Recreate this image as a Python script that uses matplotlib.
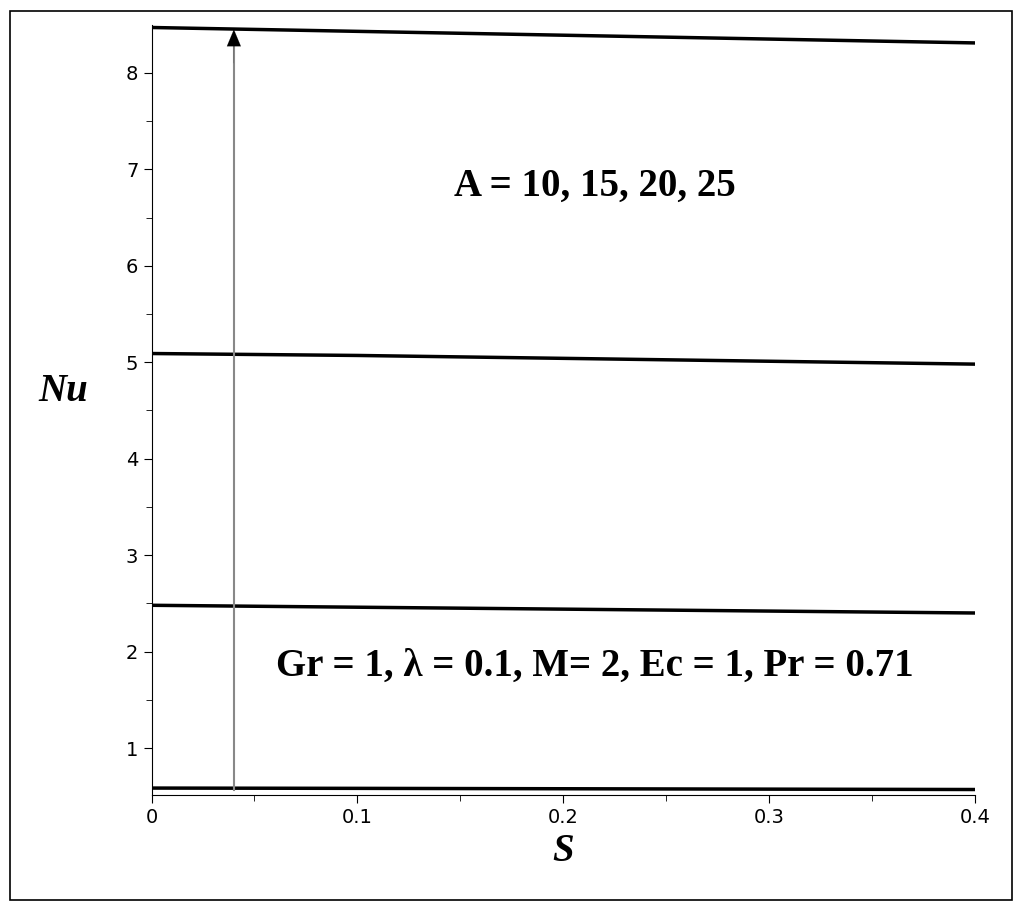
import numpy as np
import matplotlib
matplotlib.use("Agg")
import matplotlib.pyplot as plt
from matplotlib.patches import Rectangle

# Nu vs S for A = 10, 15, 20, 25
s_vals = [0.0, 0.1, 0.2, 0.3, 0.4]
nu_a10 = [0.585, 0.582, 0.578, 0.574, 0.570]
nu_a15 = [2.48, 2.46, 2.44, 2.42, 2.40]
nu_a20 = [5.09, 5.07, 5.04, 5.01, 4.98]
nu_a25 = [8.47, 8.43, 8.39, 8.35, 8.31]
arrow_x = 0.04

fig = plt.figure(figsize=(10.24, 9.11), dpi=100)
fig.patches.append(Rectangle((0.01, 0.012), 0.978, 0.976, transform=fig.transFigure,
                             fill=False, edgecolor="black", linewidth=1.2))
ax = fig.add_axes([0.148, 0.127, 0.804, 0.846])

for nu in [nu_a10, nu_a15, nu_a20, nu_a25]:
    ax.plot(s_vals, nu, color="black", linewidth=2.5)

# gray shaft, black head
ax.plot([arrow_x, arrow_x], [0.57, 8.3], color="#888888", linewidth=1.5)
ax.annotate("", xy=(arrow_x, 8.45), xytext=(arrow_x, 8.1),
            arrowprops=dict(arrowstyle="-|>,head_width=0.5,head_length=1.2",
                            color="black", linewidth=0.1,
                            shrinkA=0, shrinkB=0))

ax.set_xlim(0, 0.4)
ax.set_ylim(0.51, 8.5)
ax.set_xticks([0, 0.1, 0.2, 0.3, 0.4])
ax.set_xticklabels(["0", "0.1", "0.2", "0.3", "0.4"])
ax.set_yticks([1, 2, 3, 4, 5, 6, 7, 8])
ax.set_xticks(np.arange(0.05, 0.4, 0.1), minor=True)
ax.set_yticks(np.arange(1.5, 8.5, 1.0), minor=True)
ax.tick_params(labelsize=14, length=6, direction="out")
ax.tick_params(which="minor", length=4)
for side in ["top", "right"]:
    ax.spines[side].set_visible(False)

serif = "Liberation Serif"
ax.set_xlabel("S", fontsize=28, fontweight="bold", fontstyle="italic", family=serif)
ax.set_ylabel("Nu", fontsize=28, fontweight="bold", fontstyle="italic", family=serif,
              rotation=0, labelpad=45)
ax.text(0.2155, 6.82, "A = 10, 15, 20, 25", fontsize=28, fontweight="bold",
        family=serif, ha="center", va="center")
ax.text(0.2155, 1.85, "Gr = 1, λ = 0.1, M= 2, Ec = 1, Pr = 0.71", fontsize=28,
        fontweight="bold", family=serif, ha="center", va="center")

fig.savefig("out.png")
